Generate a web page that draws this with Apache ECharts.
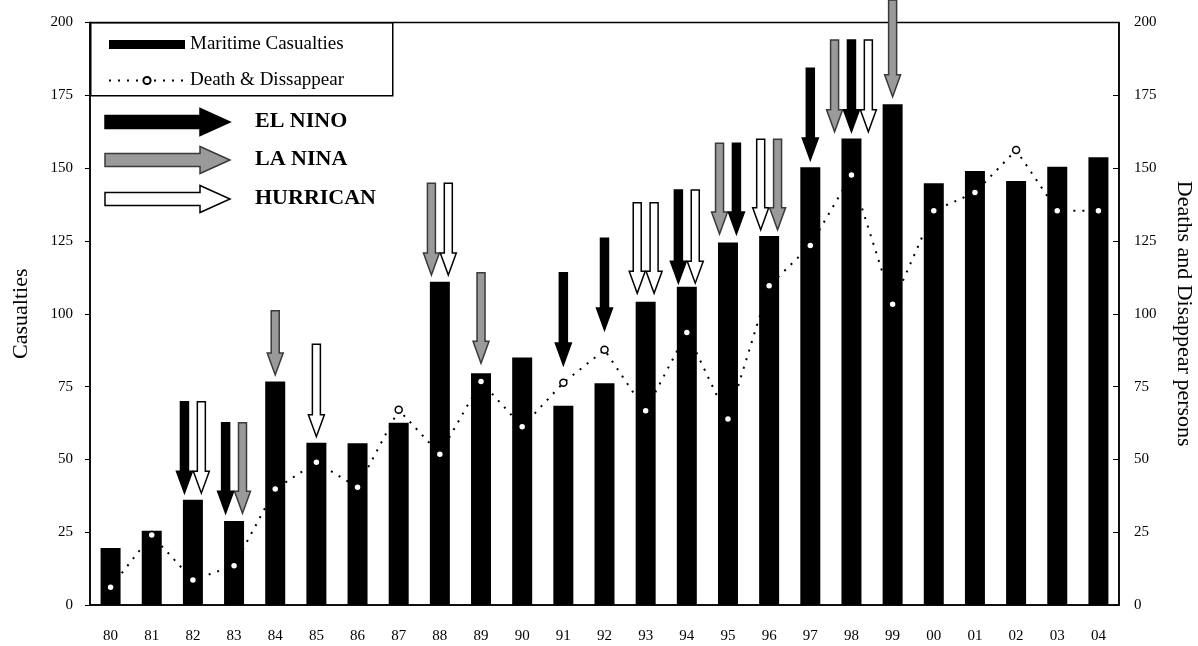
<!DOCTYPE html>
<html>
<head>
<meta charset="utf-8">
<script src="https://cdn.jsdelivr.net/npm/echarts@6/dist/echarts.min.js"></script>
<style>
  html, body { margin: 0; padding: 0; background: #fff; }
  #chart { width: 1198px; height: 646px; }
</style>
</head>
<body>
<div id="chart"></div>
<script>
// years 1980 - 2004
const years = ['80', '81', '82', '83', '84', '85', '86', '87', '88', '89', '90', '91', '92',
  '93', '94', '95', '96', '97', '98', '99', '00', '01', '02', '03', '04']
const casualties = [19.6, 25.5, 36.1, 28.8, 76.7, 55.7, 55.5, 62.6, 111.0, 79.6, 85.0, 68.4, 76.1,
  104.1, 109.3, 124.5, 126.7, 150.3, 160.2, 171.9, 144.8, 149.0, 145.6, 150.5, 153.7]
const deaths = [6.1, 24.0, 8.6, 13.5, 39.8, 49.0, 40.4, 67.0, 51.8, 76.7, 61.2, 76.3, 87.6,
  66.7, 93.6, 63.9, 109.6, 123.4, 147.6, 103.3, 135.4, 141.6, 156.2, 135.4, 135.4]
const yTicks = [0, 25, 50, 75, 100, 125, 150, 175, 200]

// event arrows: year, kind, arrow tip value, arrow tail value
const eventYear = ['82', '82', '83', '83', '84', '85', '88', '88', '89', '91', '92', '93', '93',
  '94', '94', '95', '95', '96', '96', '97', '98', '98', '98', '99']
const eventKind = ['EL NINO', 'HURRICAN', 'EL NINO', 'LA NINA', 'LA NINA', 'HURRICAN', 'LA NINA',
  'HURRICAN', 'LA NINA', 'EL NINO', 'EL NINO', 'HURRICAN', 'HURRICAN', 'EL NINO', 'HURRICAN',
  'LA NINA', 'EL NINO', 'HURRICAN', 'LA NINA', 'EL NINO', 'LA NINA', 'EL NINO', 'HURRICAN', 'LA NINA']
const eventTip = [38.4, 38.4, 31.5, 31.5, 79.0, 57.8, 113.3, 113.3, 83.0, 82.4, 94.4, 107.0, 107.0,
  110.5, 110.5, 127.4, 127.4, 128.8, 128.8, 152.8, 162.5, 162.5, 162.5, 174.5]
const eventTail = [69.8, 69.8, 62.6, 62.6, 101.0, 89.5, 144.8, 144.8, 114.1, 114.1, 125.9, 138.1, 138.1,
  142.5, 142.5, 158.5, 158.5, 159.9, 159.9, 184.3, 194.0, 194.0, 194.0, 207.7]
const eventKinds = ['EL NINO', 'LA NINA', 'HURRICAN']

const KIND_STYLE = {
  'EL NINO': { fill: '#000', stroke: '#000' },
  'LA NINA': { fill: '#9a9a9a', stroke: '#3a3a3a' },
  'HURRICAN': { fill: '#fff', stroke: '#000' }
}
const SERIF = '"Liberation Serif", "DejaVu Serif", serif'

// slot of each arrow within its year (side by side)
const arrowData = eventYear.map((y, i) => {
  const same = eventYear.filter(v => v === y).length
  const slot = eventYear.slice(0, i).filter(v => v === y).length
  return [years.indexOf(y), eventTip[i], eventTail[i], eventKinds.indexOf(eventKind[i]), slot, same]
})

function renderArrow(params, api) {
  const cat = api.value(0)
  const n = api.value(5)
  const step = api.size([1, 0])[0] * 0.41
  const x = api.coord([cat, 0])[0] + (api.value(4) - (n - 1) / 2) * step
  const tip = api.coord([cat, api.value(1)])[1]
  const tail = api.coord([cat, api.value(2)])[1]
  const sw = 4, hw = 8, hl = 22
  const style = KIND_STYLE[eventKinds[api.value(3)]]
  return {
    type: 'polygon',
    shape: {
      points: [[x - sw, tail], [x + sw, tail], [x + sw, tip - hl], [x + hw, tip - hl],
        [x, tip], [x - hw, tip - hl], [x - sw, tip - hl]]
    },
    style: { fill: style.fill, stroke: style.stroke, lineWidth: 1.5 }
  }
}

function legendArrow(kind, y) {
  const x0 = 105, x1 = 230, sh = 6.5, hh = 13.5, hl = 30
  const style = KIND_STYLE[kind]
  return [
    {
      type: 'polygon',
      shape: {
        points: [[x0, y - sh], [x1 - hl, y - sh], [x1 - hl, y - hh], [x1, y],
          [x1 - hl, y + hh], [x1 - hl, y + sh], [x0, y + sh]]
      },
      style: { fill: style.fill, stroke: style.stroke, lineWidth: 1.5 }
    },
    {
      type: 'text', left: 255, top: y - 12,
      style: { text: kind, font: 'bold 22px ' + SERIF, fill: '#000' }
    }
  ]
}

const chart = echarts.init(document.getElementById('chart'))

const axisText = { fontFamily: SERIF, fontSize: 15, color: '#000' }

chart.setOption({
  animation: false,
  grid: {
    left: 90, right: 79, top: 22.5, bottom: 41,
    outerBoundsMode: 'none',
    show: true, borderColor: '#000', borderWidth: 1.5, backgroundColor: 'transparent'
  },
  legend: {
    orient: 'vertical',
    left: 103, top: 30,
    itemWidth: 76, itemHeight: 9, itemGap: 17,
    textStyle: { fontFamily: SERIF, fontSize: 19, color: '#000' },
    data: [{ name: 'Maritime Casualties', icon: 'rect' }, { name: 'Death & Dissappear' }]
  },
  xAxis: {
    type: 'category',
    data: years,
    axisLine: { lineStyle: { color: '#000', width: 1.5 } },
    axisTick: { inside: true, length: 4, lineStyle: { color: '#000' } },
    axisLabel: Object.assign({ margin: 24 }, axisText)
  },
  yAxis: [
    {
      type: 'value', min: 0, max: 200, interval: 25,
      name: 'Casualties', nameLocation: 'middle', nameGap: 58, nameRotate: 90,
      nameTextStyle: { fontFamily: SERIF, fontSize: 22, color: '#000' },
      axisLine: { show: true, lineStyle: { color: '#000', width: 1.5 } },
      axisTick: { show: true, length: 5, lineStyle: { color: '#000' } },
      axisLabel: Object.assign({ margin: 17, formatter: v => yTicks.includes(v) ? String(v) : '' }, axisText),
      splitLine: { show: false }
    },
    {
      type: 'value', min: 0, max: 200, interval: 25, position: 'right',
      name: 'Deaths and Disappear persons', nameLocation: 'middle', nameGap: 54, nameRotate: -90,
      nameTextStyle: { fontFamily: SERIF, fontSize: 22, color: '#000' },
      axisLine: { show: true, lineStyle: { color: '#000', width: 1.5 } },
      axisTick: { show: true, inside: true, length: 6, lineStyle: { color: '#000' } },
      axisLabel: Object.assign({ margin: 15 }, axisText),
      splitLine: { show: false }
    }
  ],
  graphic: [
    {
      type: 'rect', left: 90, top: 22,
      shape: { width: 302, height: 73 },
      style: { fill: '#fff', stroke: '#000', lineWidth: 1.5 },
      z: -1
    },
    ...legendArrow('EL NINO', 122),
    ...legendArrow('LA NINA', 160),
    ...legendArrow('HURRICAN', 199)
  ],
  series: [
    {
      name: 'Maritime Casualties',
      type: 'bar',
      data: casualties,
      barWidth: 20,
      itemStyle: { color: '#000' },
      z: 2
    },
    {
      name: 'Death & Dissappear',
      type: 'line',
      yAxisIndex: 1,
      data: deaths,
      symbol: 'circle',
      symbolSize: 7,
      lineStyle: { color: '#000', width: 2, type: [2, 7] },
      itemStyle: { color: '#fff', borderColor: '#000', borderWidth: 1.5 },
      z: 3
    },
    {
      name: 'events',
      type: 'custom',
      renderItem: renderArrow,
      data: arrowData,
      clip: false,
      encode: { x: 0, y: 1 },
      z: 4
    }
  ]
})

window.addEventListener('resize', () => chart.resize())
</script>
</body>
</html>
